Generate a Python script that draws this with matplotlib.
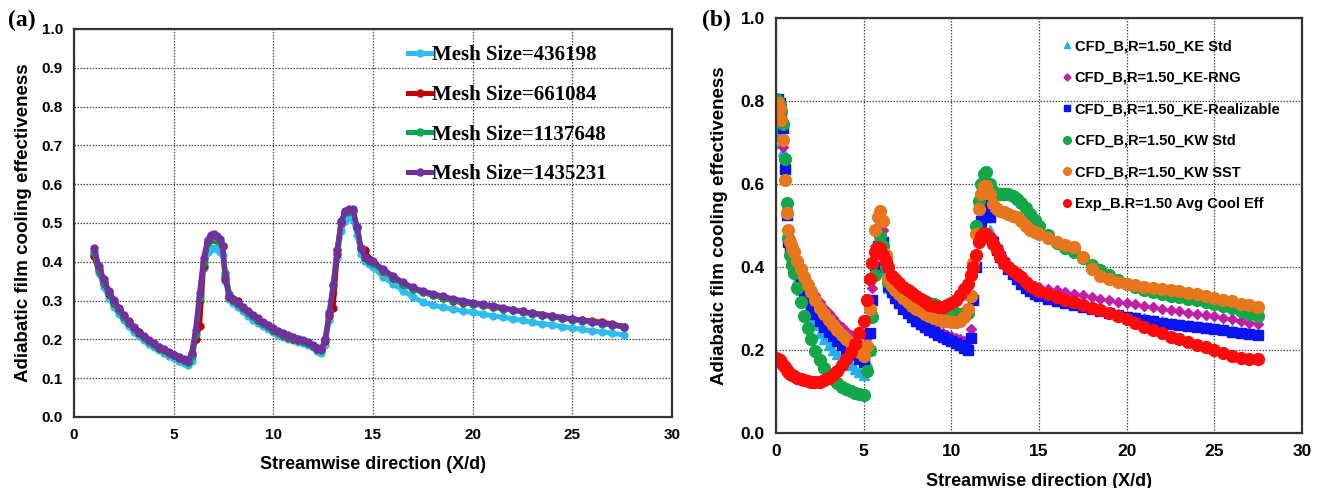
import matplotlib
matplotlib.use("Agg")
import matplotlib.pyplot as plt

plt.rcParams['font.family'] = ['Liberation Sans', 'DejaVu Sans']
plt.rcParams['font.weight'] = 'bold'

# ---------------- panel (a): mesh independence ----------------
x_a = [1.0, 1.25, 1.5, 1.75, 2.0, 2.25, 2.5, 2.75, 3.0, 3.25, 3.5, 3.75, 4.0, 4.25, 4.5, 4.75,
       5.0, 5.25, 5.5, 5.7, 5.9, 6.1, 6.3, 6.5, 6.7, 6.85, 7.0, 7.15, 7.3, 7.45, 7.6, 7.8,
       8.0, 8.25, 8.5, 8.75, 9.0, 9.25, 9.5, 9.75, 10.0, 10.25, 10.5, 10.75, 11.0, 11.25, 11.5, 11.75,
       12.0, 12.2, 12.4, 12.6, 12.8, 13.0, 13.2, 13.4, 13.6, 13.8, 14.0, 14.2, 14.4, 14.6, 14.8,
       15.0, 15.5, 16.0, 16.5, 17.0, 17.5, 18.0, 18.5, 19.0, 19.5, 20.0, 20.5, 21.0, 21.5, 22.0,
       22.5, 23.0, 23.5, 24.0, 24.5, 25.0, 25.5, 26.0, 26.5, 27.0, 27.6]

mesh_436198 = [0.42, 0.37, 0.336, 0.307, 0.284, 0.265, 0.249, 0.234, 0.22, 0.208, 0.198, 0.189, 0.181, 0.172, 0.164, 0.157,
               0.151, 0.145, 0.139, 0.134, 0.145, 0.2, 0.3, 0.385, 0.425, 0.434, 0.436, 0.432, 0.425, 0.418, 0.35, 0.303,
               0.294, 0.283, 0.272, 0.261, 0.251, 0.243, 0.235, 0.228, 0.218, 0.212, 0.207, 0.202, 0.198, 0.194, 0.19, 0.186,
               0.18, 0.171, 0.165, 0.185, 0.25, 0.32, 0.41, 0.48, 0.505, 0.515, 0.51, 0.47, 0.42, 0.403, 0.395,
               0.386, 0.362, 0.343, 0.326, 0.309, 0.296, 0.288, 0.283, 0.278, 0.274, 0.27, 0.265, 0.261, 0.257, 0.253,
               0.249, 0.244, 0.24, 0.237, 0.233, 0.229, 0.226, 0.222, 0.219, 0.216, 0.211]
mesh_661084 = [0.415, 0.378, 0.346, 0.318, 0.295, 0.275, 0.258, 0.243, 0.229, 0.217, 0.206, 0.196, 0.187, 0.179, 0.172, 0.165,
               0.159, 0.153, 0.147, 0.142, 0.16, 0.2, 0.235, 0.39, 0.45, 0.46, 0.46, 0.456, 0.45, 0.44, 0.355, 0.31,
               0.302, 0.298, 0.28, 0.27, 0.26, 0.25, 0.242, 0.234, 0.224, 0.218, 0.212, 0.207, 0.202, 0.198, 0.195, 0.19,
               0.183, 0.176, 0.172, 0.195, 0.26, 0.28, 0.42, 0.5, 0.528, 0.532, 0.53, 0.49, 0.435, 0.43, 0.408,
               0.397, 0.377, 0.359, 0.343, 0.33, 0.321, 0.314, 0.307, 0.3, 0.294, 0.291, 0.288, 0.284, 0.279, 0.276,
               0.272, 0.267, 0.264, 0.26, 0.256, 0.253, 0.25, 0.247, 0.244, 0.24, 0.233]
mesh_1137648 = [0.425, 0.382, 0.349, 0.321, 0.297, 0.277, 0.259, 0.244, 0.23, 0.218, 0.207, 0.197, 0.188, 0.18, 0.172, 0.166,
                0.16, 0.154, 0.148, 0.143, 0.158, 0.215, 0.31, 0.4, 0.45, 0.462, 0.464, 0.46, 0.452, 0.442, 0.37, 0.318,
                0.305, 0.292, 0.281, 0.271, 0.261, 0.252, 0.243, 0.235, 0.226, 0.22, 0.214, 0.209, 0.204, 0.2, 0.196, 0.191,
                0.184, 0.177, 0.173, 0.2, 0.27, 0.34, 0.43, 0.503, 0.528, 0.533, 0.532, 0.487, 0.433, 0.41, 0.402,
                0.397, 0.378, 0.36, 0.344, 0.331, 0.321, 0.314, 0.307, 0.301, 0.296, 0.292, 0.288, 0.284, 0.279, 0.275,
                0.27, 0.266, 0.262, 0.258, 0.254, 0.251, 0.247, 0.244, 0.24, 0.237, 0.231]
mesh_1435231 = [0.436, 0.39, 0.355, 0.326, 0.302, 0.281, 0.263, 0.247, 0.233, 0.22, 0.209, 0.199, 0.19, 0.181, 0.174, 0.167,
                0.161, 0.155, 0.149, 0.144, 0.165, 0.225, 0.32, 0.41, 0.456, 0.469, 0.471, 0.466, 0.458, 0.44, 0.36, 0.313,
                0.303, 0.293, 0.283, 0.272, 0.262, 0.254, 0.245, 0.237, 0.229, 0.222, 0.216, 0.211, 0.206, 0.202, 0.198, 0.193,
                0.186, 0.179, 0.175, 0.2, 0.265, 0.34, 0.43, 0.505, 0.53, 0.536, 0.535, 0.49, 0.435, 0.412, 0.405,
                0.401, 0.381, 0.364, 0.347, 0.334, 0.325, 0.318, 0.311, 0.305, 0.3, 0.295, 0.291, 0.287, 0.282, 0.277,
                0.272, 0.268, 0.264, 0.26, 0.256, 0.253, 0.249, 0.246, 0.242, 0.238, 0.233]

labels_a = ['Mesh Size=436198', 'Mesh Size=661084', 'Mesh Size=1137648', 'Mesh Size=1435231']
colors_a = ['#2fbcf0', '#c00000', '#00a651', '#7030a0']

# ---------------- panel (b): turbulence models vs experiment ----------------
x_b = [0.0, 0.1, 0.2, 0.3, 0.4, 0.5, 0.6, 0.7, 0.8, 0.9, 1.0, 1.2, 1.4, 1.6, 1.8, 2.0, 2.25, 2.5, 2.75, 3.0,
       3.25, 3.5, 3.75, 4.0, 4.25, 4.5, 4.75, 5.0,
       5.2, 5.35, 5.5, 5.65, 5.8, 5.95, 6.1, 6.25, 6.4, 6.6, 6.8, 7.0, 7.25, 7.5, 7.75, 8.0, 8.25, 8.5,
       8.75, 9.0, 9.25, 9.5, 9.75, 10.0, 10.25, 10.5, 10.75, 10.95,
       11.1, 11.25, 11.4, 11.55, 11.7, 11.85, 12.0, 12.2, 12.4, 12.6, 12.8, 13.0, 13.25, 13.5, 13.75,
       14.0, 14.25, 14.5, 14.75, 15.0, 15.5, 16.0, 16.5, 17.0, 17.5, 18.0, 18.5, 19.0, 19.5, 20.0,
       20.5, 21.0, 21.5, 22.0, 22.5, 23.0, 23.5, 24.0, 24.5, 25.0, 25.5, 26.0, 26.5, 27.0, 27.5]

ke_std = [0.72, 0.725, 0.73, 0.70, 0.68, 0.62, 0.53, 0.47, 0.45, 0.43, 0.40, 0.37, 0.345, 0.32, 0.30, 0.28, 0.26, 0.242, 0.226, 0.212,
          0.2, 0.19, 0.18, 0.171, 0.163, 0.155, 0.147, 0.14,
          0.17, 0.20, 0.30, 0.40, 0.45, 0.47, 0.46, 0.39, 0.35, 0.34, 0.325, 0.315, 0.302, 0.29, 0.28, 0.271, 0.263, 0.256,
          0.25, 0.244, 0.238, 0.233, 0.228, 0.223, 0.219, 0.215, 0.21, 0.205,
          0.24, 0.33, 0.41, 0.47, 0.51, 0.53, 0.52, 0.49, 0.47, 0.45, 0.435, 0.42, 0.405, 0.39, 0.378,
          0.367, 0.357, 0.348, 0.342, 0.336, 0.329, 0.322, 0.316, 0.311, 0.306, 0.301, 0.296, 0.291, 0.287, 0.283,
          0.279, 0.276, 0.272, 0.269, 0.266, 0.263, 0.26, 0.258, 0.255, 0.253, 0.25, 0.247, 0.244, 0.241, 0.238]
ke_rng = [0.78, 0.79, 0.78, 0.75, 0.69, 0.63, 0.54, 0.49, 0.47, 0.455, 0.44, 0.42, 0.40, 0.38, 0.365, 0.35, 0.333, 0.316, 0.302, 0.289,
          0.277, 0.266, 0.256, 0.246, 0.237, 0.228, 0.217, 0.205,
          0.23, 0.28, 0.35, 0.45, 0.50, 0.51, 0.49, 0.41, 0.36, 0.35, 0.335, 0.322, 0.31, 0.298, 0.288, 0.279, 0.271, 0.264,
          0.257, 0.251, 0.246, 0.241, 0.237, 0.233, 0.229, 0.226, 0.222, 0.22,
          0.25, 0.33, 0.41, 0.48, 0.52, 0.545, 0.55, 0.52, 0.47, 0.45, 0.435, 0.42, 0.405, 0.392, 0.38,
          0.372, 0.364, 0.358, 0.355, 0.352, 0.348, 0.344, 0.34, 0.336, 0.332, 0.328, 0.324, 0.32, 0.316, 0.313,
          0.31, 0.306, 0.303, 0.3, 0.296, 0.293, 0.29, 0.287, 0.284, 0.281, 0.277, 0.274, 0.27, 0.266, 0.262]
ke_real = [0.8, 0.805, 0.795, 0.77, 0.735, 0.635, 0.525, 0.46, 0.445, 0.425, 0.41, 0.385, 0.36, 0.34, 0.32, 0.305, 0.287, 0.27, 0.256, 0.244,
           0.233, 0.222, 0.212, 0.203, 0.195, 0.187, 0.179, 0.171,
           0.20, 0.24, 0.32, 0.40, 0.45, 0.47, 0.46, 0.40, 0.355, 0.34, 0.325, 0.313, 0.30, 0.289, 0.279, 0.27, 0.263, 0.256,
           0.249, 0.243, 0.237, 0.232, 0.227, 0.222, 0.217, 0.212, 0.206, 0.20,
           0.23, 0.32, 0.40, 0.47, 0.51, 0.54, 0.55, 0.52, 0.46, 0.44, 0.425, 0.41, 0.395, 0.382, 0.37,
           0.36, 0.35, 0.342, 0.336, 0.33, 0.324, 0.318, 0.313, 0.308, 0.303, 0.298, 0.293, 0.289, 0.284, 0.28,
           0.276, 0.273, 0.269, 0.266, 0.263, 0.26, 0.257, 0.255, 0.252, 0.25, 0.247, 0.244, 0.241, 0.238, 0.235]
kw_std = [0.805, 0.80, 0.79, 0.775, 0.745, 0.66, 0.555, 0.47, 0.43, 0.405, 0.385, 0.35, 0.315, 0.282, 0.252, 0.226, 0.198, 0.175, 0.157, 0.142,
          0.13, 0.12, 0.112, 0.106, 0.101, 0.097, 0.094, 0.092,
          0.15, 0.20, 0.28, 0.38, 0.45, 0.475, 0.45, 0.40, 0.365, 0.355, 0.348, 0.342, 0.337, 0.332, 0.328, 0.324, 0.321, 0.318,
          0.314, 0.31, 0.306, 0.302, 0.298, 0.294, 0.29, 0.287, 0.288, 0.29,
          0.33, 0.40, 0.50, 0.56, 0.60, 0.625, 0.63, 0.60, 0.582, 0.577, 0.576, 0.576, 0.575, 0.572, 0.565,
          0.555, 0.542, 0.528, 0.513, 0.498, 0.478, 0.458, 0.446, 0.436, 0.422, 0.405, 0.392, 0.38, 0.368, 0.358,
          0.351, 0.345, 0.34, 0.335, 0.331, 0.327, 0.323, 0.32, 0.316, 0.312, 0.307, 0.301, 0.294, 0.287, 0.281]
kw_sst = [0.79, 0.795, 0.78, 0.755, 0.705, 0.61, 0.53, 0.49, 0.46, 0.445, 0.435, 0.415, 0.395, 0.375, 0.357, 0.34, 0.32, 0.302, 0.287, 0.273,
          0.26, 0.248, 0.237, 0.227, 0.217, 0.207, 0.196, 0.185,
          0.21, 0.30, 0.41, 0.49, 0.52, 0.535, 0.51, 0.43, 0.37, 0.355, 0.345, 0.335, 0.325, 0.315, 0.307, 0.30, 0.293, 0.287,
          0.282, 0.278, 0.274, 0.271, 0.269, 0.268, 0.268, 0.27, 0.28, 0.30,
          0.33, 0.41, 0.48, 0.54, 0.575, 0.595, 0.595, 0.575, 0.552, 0.54, 0.535, 0.532, 0.528, 0.524, 0.52,
          0.51, 0.5, 0.49, 0.485, 0.48, 0.47, 0.46, 0.453, 0.447, 0.425, 0.395, 0.378, 0.37, 0.365, 0.36,
          0.356, 0.353, 0.35, 0.348, 0.345, 0.342, 0.338, 0.334, 0.33, 0.325, 0.321, 0.317, 0.312, 0.308, 0.304]
exp_avg = [0.18, 0.178, 0.176, 0.172, 0.165, 0.158, 0.152, 0.147, 0.143, 0.14, 0.137, 0.133, 0.13, 0.128, 0.126, 0.124, 0.123, 0.124, 0.127, 0.132,
           0.14, 0.15, 0.163, 0.178, 0.195, 0.215, 0.24, 0.27,
           0.32, 0.37, 0.41, 0.435, 0.448, 0.445, 0.43, 0.415, 0.40, 0.378, 0.37, 0.362, 0.353, 0.345, 0.337, 0.329, 0.322, 0.315,
           0.309, 0.305, 0.303, 0.304, 0.308, 0.314, 0.321, 0.332, 0.346, 0.36,
           0.38, 0.40, 0.43, 0.46, 0.475, 0.482, 0.48, 0.47, 0.455, 0.44, 0.425, 0.41, 0.40, 0.39, 0.382,
           0.375, 0.365, 0.355, 0.348, 0.342, 0.335, 0.327, 0.32, 0.315, 0.308, 0.302, 0.297, 0.29, 0.283, 0.275,
           0.265, 0.256, 0.248, 0.24, 0.232, 0.226, 0.22, 0.213, 0.207, 0.2, 0.192, 0.185, 0.181, 0.179, 0.178]

labels_b = ['CFD_B,R=1.50_KE Std', 'CFD_B,R=1.50_KE-RNG', 'CFD_B,R=1.50_KE-Realizable',
            'CFD_B,R=1.50_KW Std', 'CFD_B,R=1.50_KW SST', 'Exp_B.R=1.50 Avg Cool Eff']
colors_b = ['#1fb0ee', '#c21fa8', '#0a14f0', '#12a84a', '#e8761c', '#ff0a0a']
markers_b = ['^', 'D', 's', 'o', 'o', 'o']
msizes_b = [7.5, 5.5, 7.0, 8.5, 8.5, 8.5]

W, H = 1320, 488
fig = plt.figure(figsize=(W / 100, H / 100), dpi=100)
ax1 = fig.add_axes([74 / W, 1 - 417 / H, (672 - 74) / W, (417 - 29) / H])
ax2 = fig.add_axes([776 / W, 1 - 433 / H, (1302 - 776) / W, (433 - 18) / H])

grid_kw = dict(color='#4a4a4a', linestyle=(0, (1.2, 1.2)), linewidth=0.9)

# panel (a)
for ys, lab, col in zip([mesh_436198, mesh_661084, mesh_1137648, mesh_1435231], labels_a, colors_a):
    ax1.plot(x_a, ys, color=col, lw=3.6, marker='o', ms=5, label=lab)
ax1.set_xlim(0, 30)
ax1.set_ylim(0, 1.0)
ax1.set_xticks([0, 5, 10, 15, 20, 25, 30])
ax1.set_yticks([0.0, 0.1, 0.2, 0.3, 0.4, 0.5, 0.6, 0.7, 0.8, 0.9, 1.0])
ax1.set_yticklabels(['%.1f' % v for v in ax1.get_yticks()])
ax1.tick_params(labelsize=11, length=0, pad=8)
ax1.grid(True, **grid_kw)
ax1.set_axisbelow(True)
ax1.set_xlabel('Streamwise direction (X/d)', fontsize=13, fontweight='bold', labelpad=10)
ax1.set_ylabel('Adiabatic film cooling effectiveness', fontsize=13.5, fontweight='bold', labelpad=7)
leg1 = ax1.legend(loc='upper left', bbox_to_anchor=(0.545, 0.98), frameon=False,
                  prop={'family': 'Liberation Serif', 'weight': 'bold', 'size': 15},
                  handlelength=1.1, handletextpad=0.05, labelspacing=0.95, borderaxespad=0)

# panel (b)
for ys, lab, col, mk, ms in zip([ke_std, ke_rng, ke_real, kw_std, kw_sst, exp_avg],
                                labels_b, colors_b, markers_b, msizes_b):
    ax2.plot(x_b, ys, linestyle='none', marker=mk, ms=ms, color=col, mec=col, label=lab)
ax2.set_xlim(0, 30)
ax2.set_ylim(0, 1.0)
ax2.set_xticks([0, 5, 10, 15, 20, 25, 30])
ax2.set_yticks([0.0, 0.2, 0.4, 0.6, 0.8, 1.0])
ax2.set_yticklabels(['%.1f' % v for v in ax2.get_yticks()])
ax2.tick_params(labelsize=12.5, length=0, pad=8)
ax2.grid(True, **grid_kw)
ax2.set_axisbelow(True)
ax2.set_xlabel('Streamwise direction (X/d)', fontsize=13, fontweight='bold', labelpad=10)
ax2.set_ylabel('Adiabatic film cooling effectiveness', fontsize=13.5, fontweight='bold', labelpad=9)
leg2 = ax2.legend(loc='upper left', bbox_to_anchor=(0.533, 0.963), frameon=False,
                  prop={'weight': 'bold', 'size': 10.5}, markerscale=0.65,
                  handlelength=0.6, handletextpad=0.25, labelspacing=1.2, borderaxespad=0)

for ax in (ax1, ax2):
    for sp in ax.spines.values():
        sp.set_color('#333333')
        sp.set_linewidth(1.6)

fig.text(8 / W, 1 - 20 / H, '(a)', family='Liberation Serif', weight='bold', fontsize=17, va='center')
fig.text(702 / W, 1 - 20 / H, '(b)', family='Liberation Serif', weight='bold', fontsize=17, va='center')

fig.savefig('out.png', dpi=100)
